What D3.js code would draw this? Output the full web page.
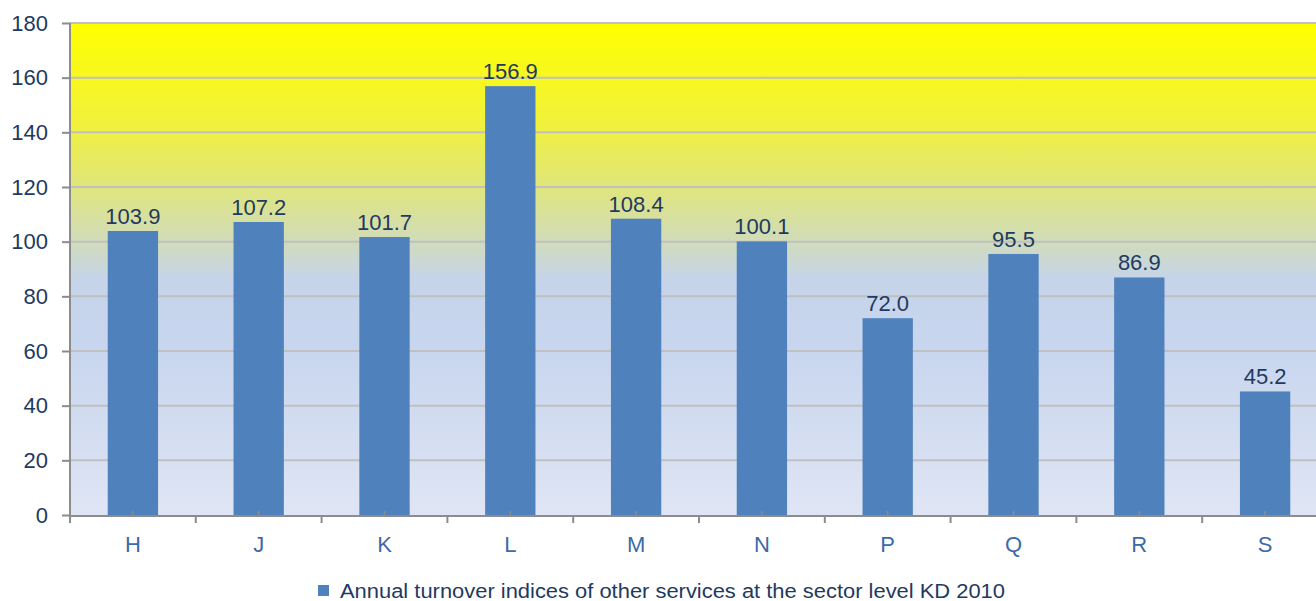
<!DOCTYPE html>
<html>
<head>
<meta charset="utf-8">
<script src="https://cdn.jsdelivr.net/npm/d3@7"></script>
<style>
  body { margin: 0; background: #fff; }
  svg { display: block; font-family: Arial, "Liberation Sans", sans-serif; }
</style>
</head>
<body>
<div id="chart"></div>
<script>
var categories = ["H", "J", "K", "L", "M", "N", "P", "Q", "R", "S"];
var values = [103.9, 107.2, 101.7, 156.9, 108.4, 100.1, 72.0, 95.5, 86.9, 45.2];
var yTicks = [0, 20, 40, 60, 80, 100, 120, 140, 160, 180];
var seriesName = "Annual turnover indices of other services at the sector level KD 2010";

var width = 1316, height = 601;
var plotLeft = 70, plotTop = 23, plotBottom = 515, plotRight = 1328;

var svg = d3.select("#chart").append("svg")
  .attr("width", width)
  .attr("height", height);

var x = d3.scaleBand().domain(categories).range([plotLeft, plotRight]).paddingInner(0.6).paddingOuter(0.3);
var band = d3.scaleBand().domain(categories).range([plotLeft, plotRight]);
var y = d3.scaleLinear().domain([0, 180]).range([plotBottom, plotTop]);

// background gradient
var grad = svg.append("defs").append("linearGradient")
  .attr("id", "bg").attr("x1", 0).attr("y1", 0).attr("x2", 0).attr("y2", 1);
[[0, "#ffff00"], [0.2, "#f1f13a"], [0.33, "#e0e67a"], [0.45, "#d0dbbe"], [0.52, "#c6d4ea"],
 [0.65, "#c7d5ee"], [1, "#dfe5f4"]].forEach(function(s) {
  grad.append("stop").attr("offset", s[0]).attr("stop-color", s[1]);
});

svg.append("rect")
  .attr("x", plotLeft).attr("y", plotTop)
  .attr("width", plotRight - plotLeft).attr("height", plotBottom - plotTop)
  .style("fill", "url(#bg)");

// gridlines
svg.append("g").selectAll("line").data(yTicks.filter(function(d) { return d > 0; }))
  .enter().append("line")
  .attr("x1", plotLeft).attr("x2", width)
  .attr("y1", function(d) { return y(d); }).attr("y2", function(d) { return y(d); })
  .attr("stroke", "#c0c0c0").attr("stroke-width", 2);

// bars
svg.append("g").selectAll("rect").data(values).enter().append("rect")
  .attr("x", function(d, i) { return x(categories[i]); })
  .attr("y", function(d) { return y(d); })
  .attr("width", x.bandwidth())
  .attr("height", function(d) { return y(0) - y(d); })
  .style("fill", "#4f81bd");

// value labels
svg.append("g").selectAll("text").data(values).enter().append("text")
  .attr("x", function(d, i) { return x(categories[i]) + x.bandwidth() / 2; })
  .attr("y", function(d) { return y(d) - 7; })
  .attr("text-anchor", "middle")
  .style("font-size", "22px")
  .style("fill", "#1f3a60")
  .text(function(d) { return d.toFixed(1); });

// y axis
var yAxis = svg.append("g")
  .attr("transform", "translate(" + plotLeft + ",0)")
  .call(d3.axisLeft(y).tickValues(yTicks).tickSize(8).tickPadding(14));
yAxis.select(".domain").attr("stroke", "#8c8c8c").attr("stroke-width", 2)
  .attr("d", "M0," + plotTop + "V" + (plotBottom + 5));
yAxis.selectAll(".tick line").attr("stroke", "#8c8c8c").attr("stroke-width", 2);
yAxis.selectAll(".tick text")
  .style("font-size", "22px").style("fill", "#1f3a60")
  .style("font-family", "Arial, 'Liberation Sans', sans-serif");

// x axis
svg.append("line")
  .attr("x1", plotLeft).attr("x2", width)
  .attr("y1", plotBottom + 1).attr("y2", plotBottom + 1)
  .attr("stroke", "#8c8c8c").attr("stroke-width", 2);
svg.append("g").selectAll("line").data(categories).enter().append("line")
  .attr("x1", function(d) { return band(d); }).attr("x2", function(d) { return band(d); })
  .attr("y1", plotBottom + 1).attr("y2", plotBottom + 8)
  .attr("stroke", "#8c8c8c").attr("stroke-width", 2);
svg.append("g").selectAll("line").data(categories).enter().append("line")
  .attr("x1", function(d) { return band(d) + band.bandwidth() / 2; })
  .attr("x2", function(d) { return band(d) + band.bandwidth() / 2; })
  .attr("y1", plotBottom - 4).attr("y2", plotBottom)
  .attr("stroke", "#8c8c8c").attr("stroke-width", 1.5);
svg.append("g").selectAll("text").data(categories).enter().append("text")
  .attr("x", function(d) { return band(d) + band.bandwidth() / 2; })
  .attr("y", plotBottom + 37)
  .attr("text-anchor", "middle")
  .style("font-size", "22px")
  .style("fill", "#3d6aa8")
  .text(function(d) { return d; });

// legend
var legend = svg.append("g").attr("class", "legend");
legend.append("rect")
  .attr("x", 318).attr("y", 585).attr("width", 11).attr("height", 11)
  .style("fill", "#4f81bd");
legend.append("text")
  .attr("x", 340).attr("y", 598)
  .attr("textLength", 665)
  .attr("lengthAdjust", "spacingAndGlyphs")
  .style("font-size", "20px")
  .style("fill", "#1f3a60")
  .text(seriesName);
</script>
</body>
</html>
